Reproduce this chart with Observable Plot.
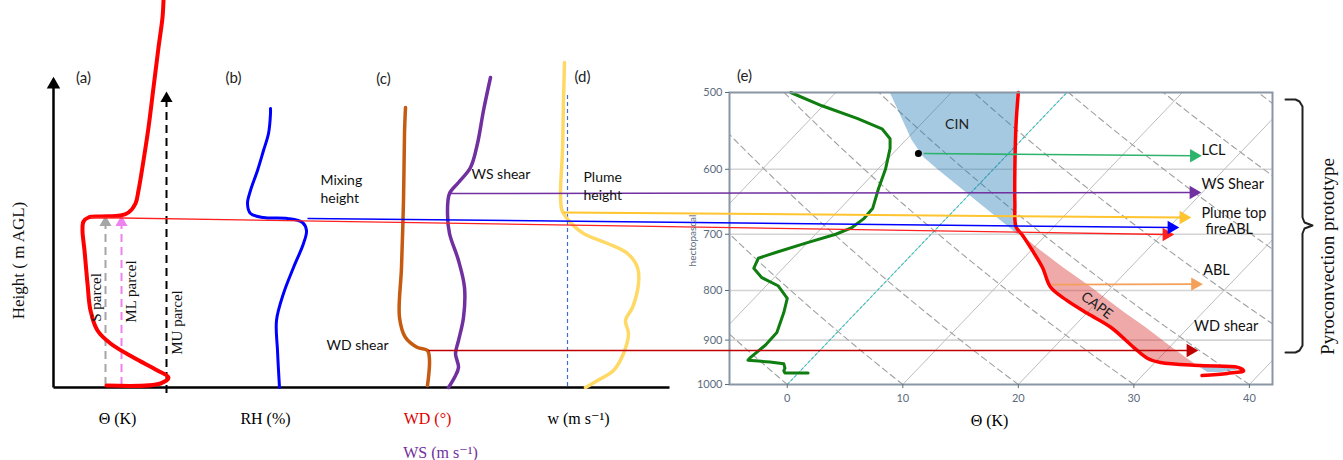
<!DOCTYPE html>
<html><head><meta charset="utf-8">
<script src="https://cdn.jsdelivr.net/npm/d3@7"></script>
<script src="https://cdn.jsdelivr.net/npm/@observablehq/plot@0.6"></script>
<style>
body{margin:0;background:#fff;}
#wrap{position:relative;width:1343px;height:460px;overflow:hidden;background:#fff;}
#wrap svg{position:absolute;left:0;top:0;}
</style></head><body><div id="wrap"></div>
<script>
// ---------- Schematic panels (a)-(d), in schematic units ----------
const thetaCurve = [[106,385],[160,383],[168,377],[157,370],[133,357],[110,343],[97,330],[90,310],[87,283],[84,250],[82,230],[83,221],[88,217],[100,216],[120,215],[128,212],[135,203],[138,190],[143,160],[148,127],[153,87],[158,47],[162,17],[163,0]];
const rhCurve = [[279,387],[277,350],[276,320],[283,293],[293,267],[303,243],[306,230],[302,222],[287,218],[263,217],[250,213],[247,203],[250,190],[257,170],[263,150],[268,133],[270,113],[270,108]];
const wdCurve = [[427,385],[429,360],[427,350],[417,347],[405,337],[399,317],[401,267],[403,200],[404,133],[405,107]];
const wsCurve = [[448,387],[454,377],[458,367],[455,353],[458,340],[463,317],[464,287],[458,260],[449,233],[447,213],[449,193],[458,182],[470,167],[477,143],[483,110],[490,77]];
const wCurve = [[585,387],[597,380],[613,370],[623,353],[628,333],[625,320],[632,307],[638,283],[637,267],[627,253],[607,243],[583,233],[570,222],[563,213],[561,208],[560,193],[562,150],[563,100],[564,62]];
const parcelArrows = [
  {name:"S", x:105, y1:385, y2:222, color:"#a6a6a6"},
  {name:"ML", x:121, y1:385, y2:222, color:"#ee82ee"},
  {name:"MU", x:166, y1:393, y2:98, color:"#000000"}
];
const schematicAxes = [{x1:53,y1:387,x2:53,y2:84},{x1:53,y1:387,x2:669,y2:387}];
const plumeRef = [{x:567, y1:95, y2:387}];
const connectors = [
  {name:"Mixing height", x1:90,  y1:217, x2:1166, y2:234, color:"#ff2020", w:1.3},
  {name:"fireABL",       x1:307, y1:218, x2:1171, y2:227, color:"#0000ff", w:1.5},
  {name:"Plume top",     x1:563, y1:212, x2:1183, y2:217, color:"#ffc42e", w:2},
  {name:"WS shear",      x1:449, y1:193, x2:1193, y2:192, color:"#7030a0", w:1.5},
  {name:"WD shear",      x1:428, y1:350, x2:1190, y2:350, color:"#c00000", w:1.3}
];
const panelLabels = [{t:"(a)",x:83,y:78},{t:"(b)",x:233,y:78},{t:"(c)",x:383,y:79},{t:"(d)",x:582,y:77},{t:"(e)",x:744,y:76}];
const noteLabels = [{t:"Mixing",x:320,y:180},{t:"height",x:320,y:198},{t:"WS shear",x:471,y:174},{t:"Plume",x:583,y:177},{t:"height",x:583,y:195},{t:"WD shear",x:326,y:345}];
const axisLabels = [
  {t:"Θ (K)",x:117,y:418,c:"#000"},{t:"RH (%)",x:265,y:418,c:"#000"},
  {t:"WD (°)",x:427,y:418,c:"#e00000"},{t:"WS (m s⁻¹)",x:440,y:452,c:"#7030a0"},
  {t:"w (m s⁻¹)",x:578,y:418,c:"#000"},{t:"Θ (K)",x:989,y:420,c:"#000"}
];
const rotLabels = [
  {t:"Height ( m AGL)",x:18,y:260,s:17},{t:"S parcel",x:96,y:297,s:15},
  {t:"ML parcel",x:131,y:291,s:15},{t:"MU parcel",x:177,y:322,s:15},
  {t:"Pyroconvection prototype",x:1327,y:256,s:19}
];
const brace = [[1285,99],[1295,99],[1299,101],[1302,106],[1302,217],[1304,222],[1312,225],[1304,228],[1302,233],[1302,345],[1299,350],[1295,352],[1285,352]];

// ---------- Skew-T panel (e): x = skewed temperature axis, p = hPa ----------
const xTicks = [0,10,20,30,40];
const pTicks = [500,600,700,800,900,1000];
const pGrid = [600,700,800,900];
const SKEW = 24.2;               // x-shift of an isotherm per halving of pressure
const isotherms = [-40,-30,-20,-10,0,10,20,30,40];
const dryAdiabats = [-30,-20,-10,0,10,20,30,40,50,60,70,80,90,100];
const temperature = [[20.0,500],[19.8,540],[19.7,600],[19.7,650],[19.8,688],[20.3,700],[21.2,727],[22.1,758],[22.8,794],[24.2,819],[26,845],[28,873],[30,916],[31.2,940],[32.3,949],[35.8,956],[39,960],[39.5,968],[38.1,974],[35.9,979]];
const dewpoint = [[0.3,500],[3.0,516],[6.1,532],[8.2,545],[8.9,558],[8.9,571],[8.5,600],[7.9,628],[7.4,658],[6.6,675],[5.6,689],[4.2,700],[1.6,715],[-1.0,731],[-2.5,741],[-2.9,759],[-2.2,776],[-0.8,791],[0,815],[-0.3,843],[-0.9,884],[-1.9,911],[-3.2,938],[-3.4,944],[-2.5,946],[-1.5,948],[-0.3,952],[-0.2,962],[-0.3,968],[-0.2,973],[1.8,973]];
const cinTop = [[500,8.9,20.0],[560,10.8,19.8],[583,11.8,19.7],[600,13.0,19.7],[650,16.6,19.7],[690,19.3,19.8],[700,19.9,20.1]];
const capeArea = [[700,20.2,20.2],[727,21.2,21.9],[758,22.1,23.9],[794,22.8,26.3],[819,24.2,27.8],[845,26,29.3],[873,28,31.0],[916,30,33.3],[940,31.2,34.6],[949,32.3,35.1],[955,35.3,35.4]];
const cinBottom = [[955,35.4,35.4],[960,35.7,38.6],[967,36.1,39.0],[972,36.4,37.5]];
const lcl = [{x:11.35,p:578}];
const skewArrows = [
  {name:"LCL", x1:11.8, p1:578, x2:35.2, p2:581, color:"#2db36b"},
  {name:"ABL", x1:22.9, p1:789, x2:35.3, p2:788, color:"#f4a05a"}
];
const rightLabels = [
  {t:"LCL",x:35.85,p:574},{t:"WS Shear",x:35.85,p:622},{t:"Plume top",x:35.85,p:666},
  {t:"fireABL",x:36.2,p:692},{t:"ABL",x:36.0,p:763},{t:"WD shear",x:35.2,p:871}
];

const SANS = "Lato, 'Open Sans', sans-serif";
const SERIF = "'Liberation Serif', 'DejaVu Serif', serif";
const TICKC = "#5b6b7c";

// ---------- Skew-T plot ----------
const adiabatRows = [];
for (const th of dryAdiabats) {
  for (let p = 1000; p >= 500; p -= 10) {
    const T = (th + 273.15) * Math.pow(p / 1000, 0.2857) - 273.15;
    adiabatRows.push({th, p, x: T + SKEW * Math.log2(1000 / p)});
  }
}
const skewPlot = Plot.plot({
  width: 1343, height: 460,
  marginLeft: 729, marginRight: 71, marginTop: 92, marginBottom: 76,
  style: "background: transparent; overflow: visible;",
  x: {domain: [-5, 42]},
  y: {type: "log", domain: [1000, 500]},
  marks: [
    Plot.ruleY(pGrid, {stroke: "#d4d4d4", strokeWidth: 1.6}),
    Plot.link(isotherms, {x1: d => d, y1: () => 1000, x2: d => d + SKEW, y2: () => 500, stroke: "#bdbdbd", strokeWidth: 1, clip: true}),
    Plot.line(adiabatRows, {x: "x", y: "p", z: "th", stroke: "#a0a0a0", strokeWidth: 1.1, strokeDasharray: "6,4", clip: true}),
    Plot.link([0], {x1: d => d, y1: () => 1000, x2: d => d + SKEW, y2: () => 500, stroke: "#2cc4c4", strokeWidth: 1.1, strokeDasharray: "3,2", clip: true}),
    Plot.areaX(cinTop, {y: d => d[0], x1: d => d[1], x2: d => d[2], fill: "#1f77b4", fillOpacity: 0.4}),
    Plot.areaX(capeArea, {y: d => d[0], x1: d => d[1], x2: d => d[2], fill: "#d62728", fillOpacity: 0.4}),
    Plot.areaX(cinBottom, {y: d => d[0], x1: d => d[1], x2: d => d[2], fill: "#1f77b4", fillOpacity: 0.4}),
    Plot.line(dewpoint, {x: d => d[0], y: d => d[1], stroke: "#0f7d0f", strokeWidth: 3, curve: "linear"}),
    Plot.line(temperature, {x: d => d[0], y: d => d[1], stroke: "#ff0000", strokeWidth: 3.5, curve: "catmull-rom"}),
    Plot.link(skewArrows, {x1: "x1", y1: "p1", x2: "x2", y2: "p2", stroke: "color", strokeWidth: 1.6}),
    Plot.dot(skewArrows, {x: "x2", y: "p2", symbol: "triangle", rotate: 90, r: 5, fill: "color", stroke: null}),
    Plot.dot(lcl, {x: "x", y: "p", r: 3.5, fill: "black"}),
    Plot.text(["CIN"], {x: () => 14.7, y: () => 539, text: d => d, fontSize: 14, fontFamily: SANS, fill: "#222"}),
    Plot.text(["CAPE"], {x: () => 26.8, y: () => 829, text: d => d, fontSize: 14, fontFamily: SANS, fill: "#222", rotate: 37}),
    Plot.text(rightLabels, {x: "x", y: "p", text: "t", textAnchor: "start", fontSize: 14.5, fontFamily: SANS, fill: "#111"}),
    Plot.frame({stroke: "#8a96a3", strokeWidth: 2}),
    Plot.axisX({ticks: xTicks, tickSize: 4, tickPadding: 6, label: null, fontSize: 11, fontFamily: SANS, color: TICKC}),
    Plot.axisY({ticks: pTicks, tickSize: 4, tickPadding: 3, tickFormat: d => String(d), label: null, fontSize: 11, fontFamily: SANS, color: TICKC})
  ]
});

// ---------- Schematic overlay ----------
const sx = {domain: [0, 1343], range: [0, 1343], axis: null};
const sy = {domain: [0, 460], range: [0, 460], axis: null};
const schem = Plot.plot({
  width: 1343, height: 460, margin: 0,
  style: "background: transparent; overflow: visible;",
  x: sx, y: sy,
  marks: [
    Plot.link(schematicAxes, {x1: "x1", y1: "y1", x2: "x2", y2: "y2", stroke: "black", strokeWidth: 2.5}),
    Plot.dot([{x:53,y:84}], {x: "x", y: "y", symbol: "triangle", r: 5, fill: "black", stroke: null}),
    Plot.ruleX(plumeRef, {x: "x", y1: "y1", y2: "y2", stroke: "#3b6fd8", strokeWidth: 1.2, strokeDasharray: "4,3"}),
    Plot.ruleX(parcelArrows, {x: "x", y1: "y1", y2: "y2", stroke: "color", strokeWidth: 2, strokeDasharray: "8,5"}),
    Plot.dot(parcelArrows, {x: "x", y: "y2", symbol: "triangle", r: 4.5, fill: "color", stroke: null}),
    Plot.line(thetaCurve, {x: d => d[0], y: d => d[1], stroke: "#ff0000", strokeWidth: 4, curve: "catmull-rom"}),
    Plot.line(rhCurve, {x: d => d[0], y: d => d[1], stroke: "#0000ff", strokeWidth: 3, curve: "catmull-rom"}),
    Plot.line(wdCurve, {x: d => d[0], y: d => d[1], stroke: "#c55a11", strokeWidth: 3.5, curve: "catmull-rom"}),
    Plot.line(wsCurve, {x: d => d[0], y: d => d[1], stroke: "#7030a0", strokeWidth: 3.5, curve: "catmull-rom"}),
    Plot.line(wCurve, {x: d => d[0], y: d => d[1], stroke: "#ffd966", strokeWidth: 3.5, curve: "catmull-rom"}),
    Plot.link(connectors, {x1: "x1", y1: "y1", x2: "x2", y2: "y2", stroke: "color", strokeWidth: "w"}),
    Plot.dot(connectors, {x: "x2", y: "y2", symbol: "triangle", rotate: 90, r: 5, fill: "color", stroke: null}),
    Plot.line(brace, {x: d => d[0], y: d => d[1], stroke: "#222", strokeWidth: 2, curve: "linear"}),
    Plot.text(panelLabels, {x: "x", y: "y", text: "t", fontSize: 15, fontFamily: SANS, fill: "#222"}),
    Plot.text(noteLabels, {x: "x", y: "y", text: "t", textAnchor: "start", fontSize: 14, fontFamily: SANS, fill: "#111"}),
    Plot.text(axisLabels, {x: "x", y: "y", text: "t", fill: "c", fontSize: 16, fontFamily: SERIF}),
    Plot.text(rotLabels, {x: "x", y: "y", text: "t", fontSize: "s", rotate: -90, fontFamily: SERIF, fill: "#111"}),
    Plot.text(["hectopascal"], {x: () => 692, y: () => 240, text: d => d, rotate: -90, fontSize: 10, fontFamily: SANS, fill: TICKC})
  ]
});

const wrap = document.getElementById("wrap");
wrap.appendChild(skewPlot);
wrap.appendChild(schem);
</script></body></html>
